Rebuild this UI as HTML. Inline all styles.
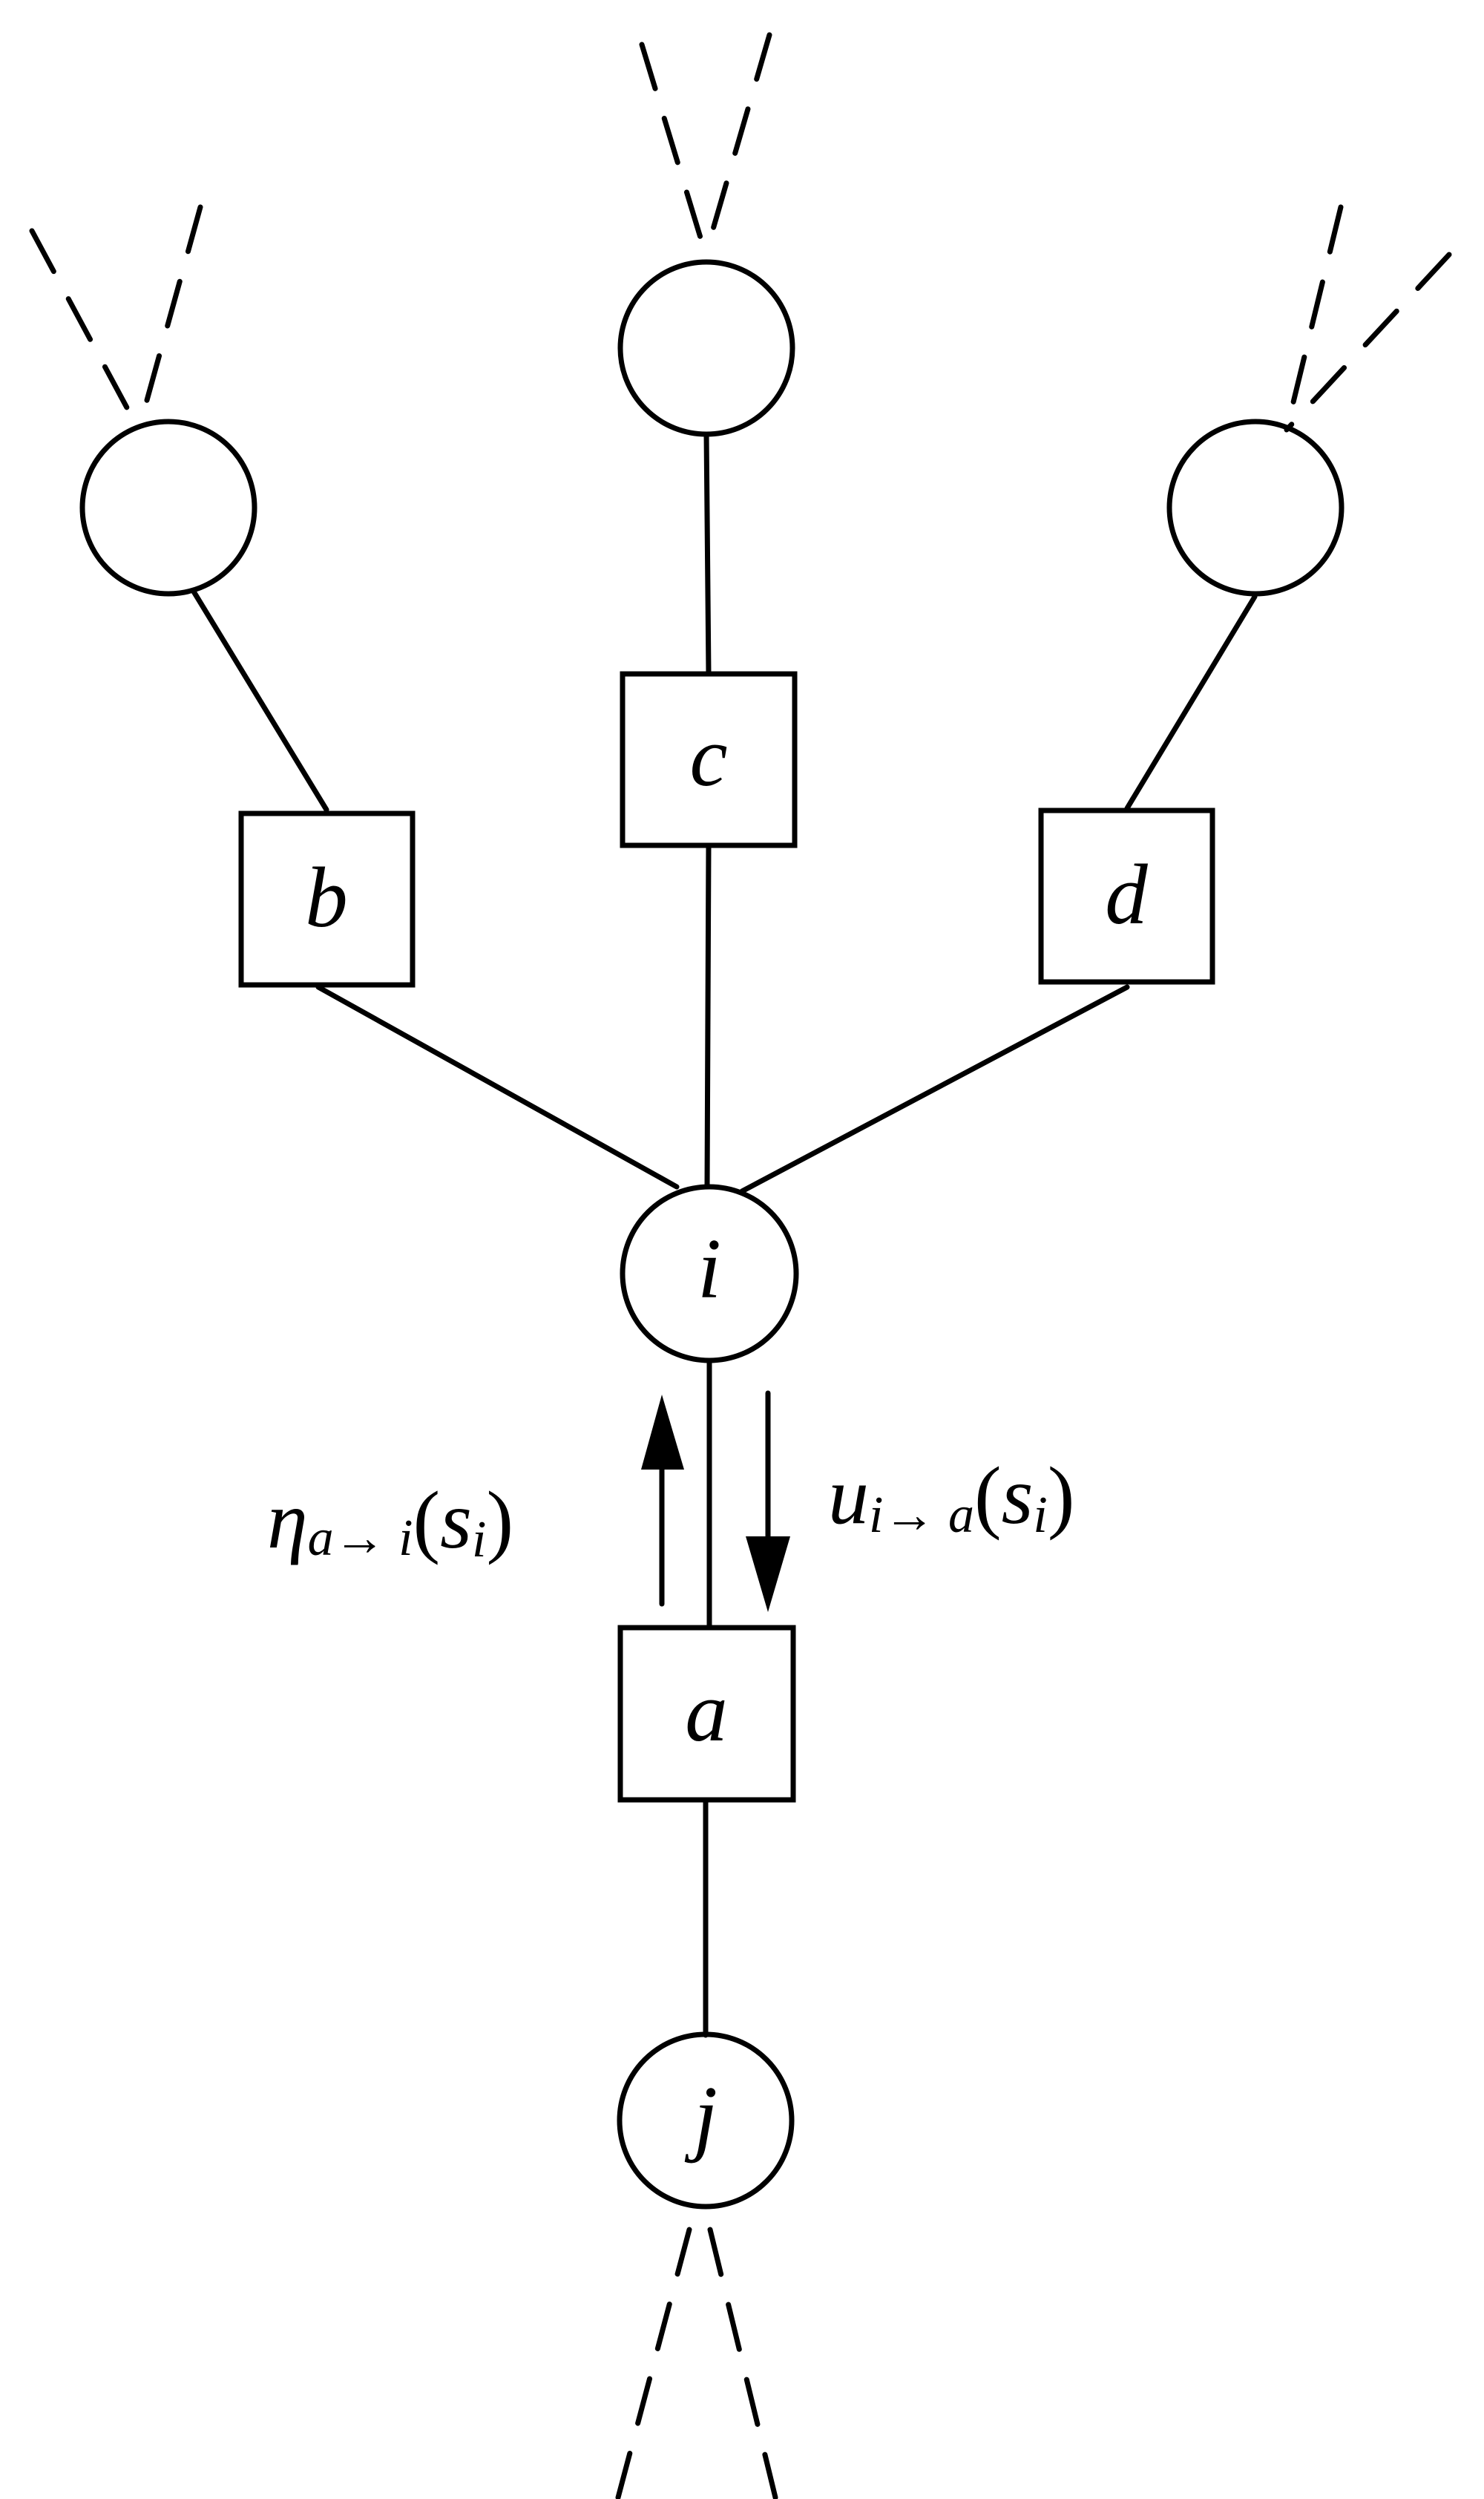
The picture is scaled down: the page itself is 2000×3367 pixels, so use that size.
<!DOCTYPE html>
<html><head><meta charset="utf-8"><style>
html,body{margin:0;padding:0;background:#fff;}
svg{display:block;}
text{font-family:"Liberation Serif",serif;font-style:italic;fill:#000;}
</style></head><body>
<svg width="2000" height="3367" viewBox="0 0 2000 3367" xmlns="http://www.w3.org/2000/svg">
<g stroke="#000" stroke-width="7" fill="none" stroke-linecap="round">
<!-- dashed -->
<g stroke-dasharray="62,42">
<line x1="43" y1="311" x2="187" y2="579"/>
<line x1="270" y1="279" x2="187" y2="579"/>
<line x1="865" y1="60" x2="951" y2="343"/>
<line x1="1037" y1="47" x2="951" y2="343"/>
<line x1="1807" y1="279" x2="1734" y2="579"/>
<line x1="1953" y1="343" x2="1734" y2="579"/>
<line x1="929" y1="3004" x2="833" y2="3365"/>
<line x1="957" y1="3004" x2="1045" y2="3365"/>
</g>
<!-- solid connectors -->
<line x1="261" y1="797" x2="440" y2="1091"/>
<line x1="1691" y1="804" x2="1519" y2="1089"/>
<line x1="952" y1="585" x2="955" y2="908"/>
<line x1="955" y1="1139" x2="953" y2="1599"/>
<line x1="429" y1="1330" x2="912" y2="1599"/>
<line x1="1519" y1="1330" x2="1000" y2="1605"/>
<line x1="956" y1="1833" x2="956" y2="2193"/>
<line x1="951" y1="2425" x2="951" y2="2742"/>
<!-- circles -->
<circle cx="227" cy="684" r="116"/>
<circle cx="952" cy="469" r="116"/>
<circle cx="1692" cy="684" r="116"/>
<circle cx="956" cy="1716" r="117"/>
<circle cx="951" cy="2857" r="116"/>
<!-- boxes -->
<rect x="325" y="1096" width="231" height="231"/>
<rect x="839" y="908" width="232" height="231"/>
<rect x="1403" y="1092" width="231" height="231"/>
<rect x="836" y="2193" width="233" height="232"/>
<!-- arrows -->
<line x1="892" y1="2161" x2="892" y2="1970"/>
<line x1="1035" y1="1877" x2="1035" y2="2080"/>
</g>
<polygon points="892,1879 864,1980 922,1980" fill="#000"/>
<polygon points="1035,2172 1005,2070 1065,2070" fill="#000"/>
<g font-size="115" text-anchor="middle">
<text x="440" y="1248">b</text>
<text x="955" y="1058">c</text>
<text x="1518" y="1244">d</text>
<text x="956" y="1748">i</text>
<text x="952" y="2345">a</text>
<text x="951" y="2890">j</text>
</g>
<text x="360" y="2085" font-size="110">η<tspan font-size="70" dy="10">a→ i</tspan><tspan font-size="110" dy="-10" font-style="normal">(</tspan>s<tspan font-size="70" dy="12">i</tspan><tspan font-size="110" dy="-12" font-style="normal">)</tspan></text>
<text x="1116" y="2052" font-size="110">u<tspan font-size="70" dy="12">i→ a</tspan><tspan font-size="110" dy="-12" font-style="normal">(</tspan>s<tspan font-size="70" dy="12">i</tspan><tspan font-size="110" dy="-12" font-style="normal">)</tspan></text>
</svg>
</body></html>
